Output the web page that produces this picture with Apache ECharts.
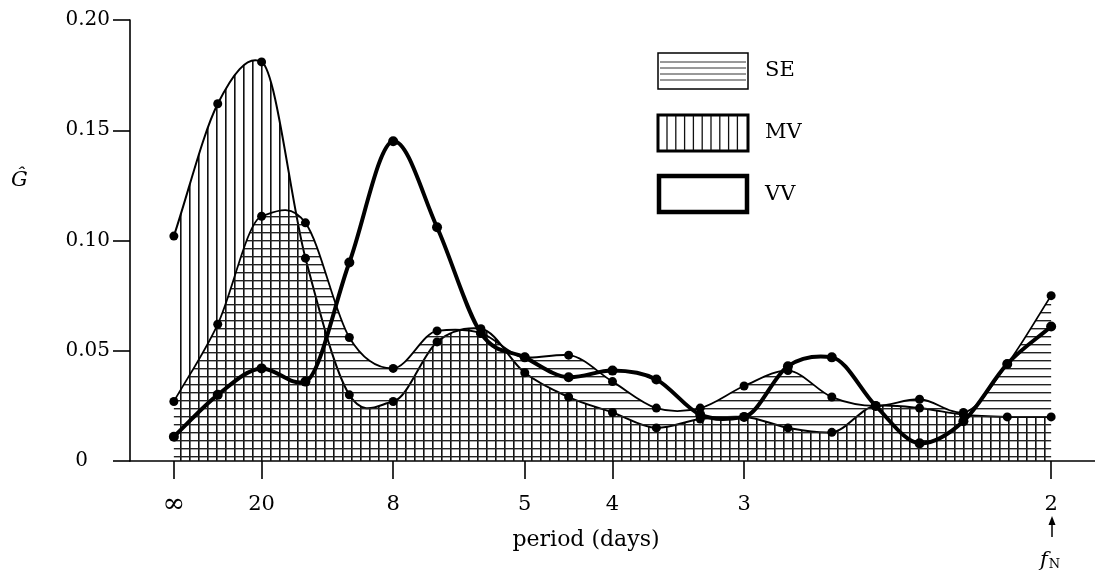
<!DOCTYPE html>
<html><head><meta charset="utf-8">
<script src="https://cdn.jsdelivr.net/npm/echarts@6/dist/echarts.min.js"></script>
<style>html,body{margin:0;padding:0;background:#fff}#c{width:1095px;height:577px}</style>
</head><body><div id="c"></div>
<script>
// frequency index (0 .. Nyquist), step 1/40 cycles per day
const freqIndex = [0,1,2,3,4,5,6,7,8,9,10,11,12,13,14,15,16,17,18,19,20];
const periodTickIndex = [0,2,5,8,10,13,20];
const periodTickLabels = ['∞','20','8','5','4','3','2'];
const seriesNames = ['SE','MV','VV'];
const SE = [0.027,0.062,0.111,0.108,0.056,0.042,0.059,0.058,0.047,0.048,0.036,0.024,0.024,0.034,0.041,0.029,0.025,0.028,0.022,0.044,0.075];
const MV = [0.102,0.162,0.181,0.092,0.030,0.027,0.054,0.060,0.040,0.029,0.022,0.015,0.019,0.020,0.015,0.013,0.025,0.024,0.021,0.020,0.020];
const VV = [0.011,0.030,0.042,0.036,0.090,0.145,0.106,0.058,0.047,0.038,0.041,0.037,0.021,0.020,0.043,0.047,0.025,0.008,0.018,0.044,0.061];

const FONT = 'DejaVu Serif';
function hatch(dir){
  const c = document.createElement('canvas');
  const ctx = c.getContext('2d');
  if(dir==='h'){ c.width=8; c.height=8; ctx.fillStyle='#222'; ctx.fillRect(0,0,8,1.4); }
  else { c.width=9; c.height=9; ctx.fillStyle='#111'; ctx.fillRect(0,0,1.6,9); }
  return c;
}
const pair = arr => arr.map((v,i)=>[freqIndex[i], v]);

// cubic Hermite spline (Catmull-Rom tangents, damped at local extrema) through axis pixel points
function splinePath(pts){
  const n = pts.length, m = [];
  for(let i=0;i<n;i++){
    const a = pts[Math.max(0,i-1)], b = pts[Math.min(n-1,i+1)];
    let s = (b[1]-a[1])/(b[0]-a[0]);
    if(i>0 && i<n-1){
      const s1 = (pts[i][1]-pts[i-1][1])/(pts[i][0]-pts[i-1][0]);
      const s2 = (pts[i+1][1]-pts[i][1])/(pts[i+1][0]-pts[i][0]);
      if(s1*s2 < 0) s *= 0.3;
    }
    m.push(s);
  }
  let d = 'M' + pts[0][0] + ' ' + pts[0][1];
  for(let i=0;i<n-1;i++){
    const p1 = pts[i], p2 = pts[i+1], h = (p2[0]-p1[0])/3;
    d += ' C' + (p1[0]+h) + ' ' + (p1[1]+m[i]*h) + ' ' + (p2[0]-h) + ' ' + (p2[1]-m[i+1]*h) + ' ' + p2[0] + ' ' + p2[1];
  }
  return d;
}
function curveSeries(name, values, opts){
  return {
    name: name, type:'custom', data:[[0,0]], z:opts.z, silent:true,
    renderItem:function(params, api){
      const pts = values.map((v,i)=>api.coord([freqIndex[i], v]));
      const curve = splinePath(pts);
      const children = [];
      if(opts.hatch){
        const base = api.coord([0,0])[1];
        const area = curve + ' L' + pts[pts.length-1][0] + ' ' + base + ' L' + pts[0][0] + ' ' + base + ' Z';
        children.push({type:'path', shape:{pathData:area}, style:{fill:{image:hatch(opts.hatch), repeat:'repeat'}, stroke:null}});
      }
      children.push({type:'path', shape:{pathData:curve}, style:{fill:null, stroke:'#000', lineWidth:opts.width, lineJoin:'round', lineCap:'round'}});
      return {type:'group', children:children};
    }
  };
}
function dotSeries(name, values, size){
  return {name:name, type:'scatter', data:pair(values), symbol:'circle', symbolSize:size, itemStyle:{color:'#000', opacity:1}, z:10, silent:true};
}

const chart = echarts.init(document.getElementById('c'));
const labelMap = {}; periodTickIndex.forEach((v,i)=>labelMap[v]=periodTickLabels[i]);

const legendG = [];
legendG.push({type:'rect', shape:{x:658,y:53,width:90,height:36}, style:{fill:'#fff',stroke:'#000',lineWidth:1.5}});
[62,68,74,80].forEach(y=>legendG.push({type:'line', shape:{x1:660,y1:y,x2:746,y2:y}, style:{stroke:'#333',lineWidth:1}}));
legendG.push({type:'rect', shape:{x:658,y:115,width:90,height:36}, style:{fill:'#fff',stroke:'#000',lineWidth:3}});
for(let k=0;k<9;k++){ const x=667+k*8.8; legendG.push({type:'line', shape:{x1:x,y1:116,x2:x,y2:150}, style:{stroke:'#111',lineWidth:1.3}}); }
legendG.push({type:'rect', shape:{x:659,y:176,width:88,height:36}, style:{fill:'#fff',stroke:'#000',lineWidth:4.5}});
const legY=[71,133,195];
seriesNames.forEach((n,i)=>legendG.push({type:'text', x:765, y:legY[i], style:{text:n, font:'21px "DejaVu Serif"', fill:'#000', verticalAlign:'middle'}}));

chart.setOption({
  animation:false,
  backgroundColor:'#fff',
  grid:{left:130, right:0, top:20, bottom:116, containLabel:false},
  xAxis:{type:'value', min:-1, max:21,
    axisLine:{show:true, onZero:false, lineStyle:{color:'#000', width:1.6}},
    axisTick:{show:true, customValues:periodTickIndex, length:18, lineStyle:{color:'#000', width:1.6}},
    axisLabel:{customValues:periodTickIndex, margin:33, fontFamily:FONT, fontSize:21, color:'#000',
      formatter:v=> v===0 ? '{inf|∞}' : (labelMap[v]!==undefined?labelMap[v]:''),
      rich:{inf:{fontFamily:FONT, fontSize:27, lineHeight:21, color:'#000'}}},
    splitLine:{show:false}},
  yAxis:{type:'value', min:0, max:0.2, interval:0.05,
    axisLine:{show:true, onZero:false, lineStyle:{color:'#000', width:1.6}},
    axisTick:{show:true, length:17, lineStyle:{color:'#000', width:1.6}},
    axisLabel:{margin:20, fontFamily:FONT, fontSize:20, color:'#000',
      formatter:v=> v===0 ? '{z|0}' : v.toFixed(2),
      rich:{z:{fontFamily:FONT, fontSize:20, color:'#000', padding:[0,22,0,0]}}},
    splitLine:{show:false}},
  series:[
    curveSeries('MV', MV, {hatch:'v', width:2, z:2}),
    curveSeries('SE', SE, {hatch:'h', width:1.8, z:3}),
    curveSeries('VV', VV, {width:4, z:4}),
    dotSeries('MV', MV, 9),
    dotSeries('SE', SE, 9),
    dotSeries('VV', VV, 10)
  ],
  graphic:[
    ...legendG,
    {type:'text', left:11, top:170, style:{text:'Ĝ', font:'italic 21px "DejaVu Serif"', fill:'#000'}},
    {type:'text', x:586, y:540, style:{text:'period (days)', font:'22px "DejaVu Serif"', fill:'#000', align:'center', verticalAlign:'middle'}},
    {type:'line', shape:{x1:1052,y1:537,x2:1052,y2:522}, style:{stroke:'#000',lineWidth:1.5}},
    {type:'polygon', shape:{points:[[1052,516],[1048.5,525],[1055.5,525]]}, style:{fill:'#000'}},
    {type:'text', x:1050, y:561, style:{text:'{f|f}{n|N}', align:'center', verticalAlign:'middle',
      rich:{f:{font:'italic 21px "DejaVu Serif"', fill:'#000'}, n:{font:'13px "DejaVu Serif"', fill:'#000', padding:[8,0,0,1]}}}}
  ]
});
</script></body></html>
